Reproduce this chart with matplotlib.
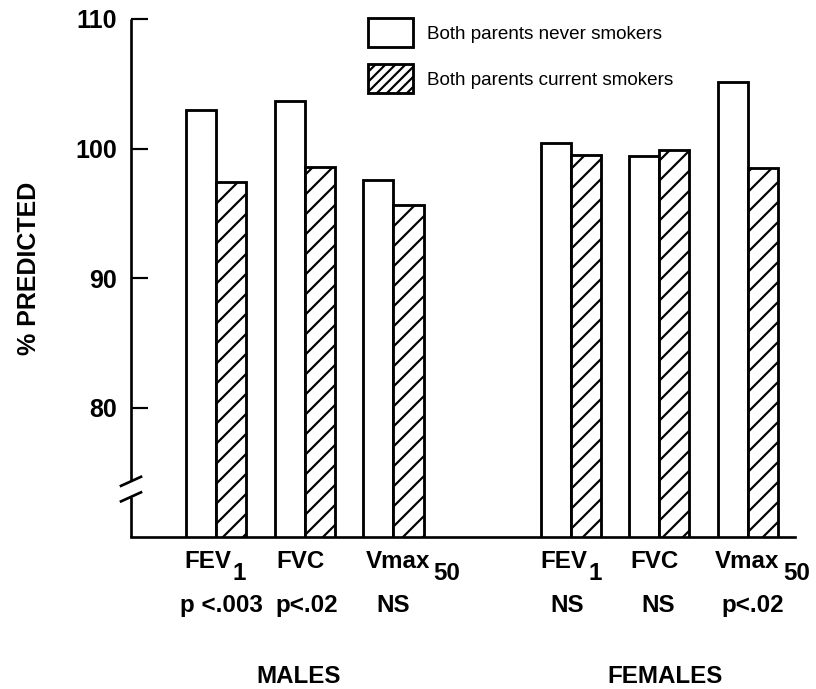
import matplotlib
matplotlib.use("Agg")
import matplotlib.pyplot as plt
from matplotlib.patches import Rectangle
import numpy as np

# Lung function (% predicted) by parental smoking status
categories = ["FEV", "FVC", "Vmax", "FEV", "FVC", "Vmax"]
subscripts = ["1", "", "50", "1", "", "50"]
significance = ["p <.003", "p<.02", "NS", "NS", "NS", "p<.02"]
positions = [0, 1, 2, 4, 5, 6]
never_smokers = [103.0, 103.65, 97.6, 100.45, 99.4, 105.1]
current_smokers = [97.4, 98.6, 95.6, 99.5, 99.9, 98.5]
groups = ["MALES", "FEMALES"]
group_positions = [1, 5]
series_labels = ["Both parents never smokers", "Both parents current smokers"]
y_ticks = [80, 90, 100, 110]

plt.rcParams["font.family"] = ["Liberation Sans", "DejaVu Sans"]
plt.rcParams["hatch.linewidth"] = 1.3
plt.rcParams["hatch.color"] = "black"

DPI = 120
W, H = 816, 689
fig = plt.figure(figsize=(W / DPI, H / DPI), dpi=DPI)
ax = fig.add_axes([131 / W, 1 - 537 / H, 664 / W, 518 / H])

x = np.array(positions, dtype=float)
bw = 0.34
ax.bar(x - bw / 2, never_smokers, width=bw, color="white",
       edgecolor="black", linewidth=1.7)
ax.bar(x + bw / 2, current_smokers, width=bw, color="white",
       edgecolor="black", linewidth=1.7, hatch="//")

ax.set_xlim(-0.959, 6.53)
ax.set_ylim(70, 110)
ax.set_xticks([])
ax.set_yticks(y_ticks, labels=[str(t) for t in y_ticks],
              fontweight="bold", fontsize=15)
ax.tick_params(axis="y", direction="in", length=10.2, width=1.3, pad=8.5)

for s in ("top", "right", "left"):
    ax.spines[s].set_visible(False)
ax.spines["bottom"].set_linewidth(1.6)

# broken y axis: two spine segments with slashes between them
ytr = ax.get_yaxis_transform()
brk_hi, brk_lo = 74.3, 73.1
ax.plot([0, 0], [brk_hi, 110], color="black", lw=1.6, transform=ytr,
        clip_on=False, solid_capstyle="butt")
ax.plot([0, 0], [70, brk_lo], color="black", lw=1.6, transform=ytr,
        clip_on=False, solid_capstyle="butt")
dx = 10 / 664
for v in (brk_hi, brk_lo):
    ax.plot([-dx, dx], [v - 0.35, v + 0.35], color="black", lw=1.6,
            transform=ytr, clip_on=False)

# category labels under each pair of bars
main_left = [-32, -28, -28, -30, -29, -33]
sub_gap = [1, 0, 4, 1, 0, 4]
sig_shift = [5, 2, 0, -3, -1, 5]
lab_kw = dict(fontsize=14.5, fontweight="bold", annotation_clip=False)
for xi, name, sub, sig, ml, sg, ss in zip(positions, categories, subscripts,
                                          significance, main_left, sub_gap,
                                          sig_shift):
    main = ax.annotate(name, xy=(xi, 0), xycoords=("data", "axes fraction"),
                       xytext=(ml, -31), textcoords="offset pixels",
                       ha="left", va="baseline", **lab_kw)
    if sub:
        ax.annotate(sub, xy=(1, 0), xycoords=(main, "axes fraction"),
                    xytext=(sg, -43), textcoords="offset pixels",
                    ha="left", va="baseline", **lab_kw)
    ax.annotate(sig, xy=(xi, 0), xycoords=("data", "axes fraction"),
                xytext=(ss, -75), textcoords="offset pixels",
                ha="center", va="baseline", **lab_kw)

for gx, g, off in zip(group_positions, groups, [-6, 6]):
    ax.annotate(g, xy=(gx, 0), xycoords=("data", "axes fraction"),
                xytext=(off, -146), textcoords="offset pixels",
                ha="center", va="baseline", **lab_kw)

fig.text(29 / W, 1 - 268 / H, "% PREDICTED", rotation=90, ha="center",
         va="center", fontsize=15, fontweight="bold")

# legend swatches
h_never = Rectangle((0, 0), 1, 1, facecolor="white", edgecolor="black",
                    linewidth=1.7)
h_curr = Rectangle((0, 0), 1, 1, facecolor="white", edgecolor="black",
                   linewidth=1.7, hatch="////")
ax.legend([h_never, h_curr], series_labels, loc="upper left",
          bbox_to_anchor=(368 / W, 1 - 18 / H), bbox_transform=fig.transFigure,
          frameon=False, fontsize=11.3, handlelength=2.38, handleheight=2.0,
          labelspacing=0.9, handletextpad=0.74, borderpad=0, borderaxespad=0)

fig.savefig("out.png", dpi=DPI)
